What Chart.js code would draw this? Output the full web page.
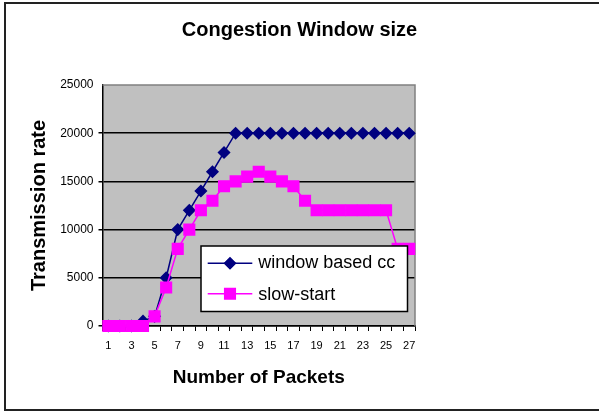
<!DOCTYPE html>
<html>
<head>
<meta charset="utf-8">
<script src="https://cdn.jsdelivr.net/npm/chart.js@4"></script>
<style>
  html, body { margin: 0; padding: 0; background: #fff; }
  #wrap { width: 599px; height: 412px; }
</style>
</head>
<body>
<div id="wrap"><canvas id="c" width="599" height="412"></canvas></div>
<script>
const packets = ['1','2','3','4','5','6','7','8','9','10','11','12','13','14','15','16','17','18','19','20','21','22','23','24','25','26','27'];
const windowBased = [0,0,0,500,1000,5000,10000,12000,14000,16000,18000,20000,20000,20000,20000,20000,20000,20000,20000,20000,20000,20000,20000,20000,20000,20000,20000];
const slowStart = [0,0,0,0,1000,4000,8000,10000,12000,13000,14500,15000,15500,16000,15500,15000,14500,13000,12000,12000,12000,12000,12000,12000,12000,8000,8000];
const yTicks = [0,5000,10000,15000,20000,25000];

const FONT = '"Liberation Sans", Arial, sans-serif';

const plotBg = {
  id: 'plotBg',
  beforeDraw(chart) {
    const {ctx, chartArea: a} = chart;
    ctx.save();
    ctx.fillStyle = '#C0C0C0';
    ctx.fillRect(a.left, a.top, a.right - a.left, a.bottom - a.top);
    ctx.restore();
  },
  beforeDatasetsDraw(chart) {
    const {ctx, chartArea: a} = chart;
    ctx.save();
    ctx.strokeStyle = '#808080';
    ctx.lineWidth = 1.5;
    ctx.beginPath();
    ctx.moveTo(a.left, a.top);
    ctx.lineTo(a.right, a.top);
    ctx.lineTo(a.right, a.bottom);
    ctx.stroke();
    ctx.restore();
  }
};

const boxLegend = {
  id: 'boxLegend',
  afterDraw(chart) {
    const {ctx, chartArea: a} = chart;
    const x0 = a.left + 98.5, y0 = a.top + 161, w = 206.5, h = 65.5;
    ctx.save();
    ctx.fillStyle = '#fff';
    ctx.fillRect(x0, y0, w, h);
    ctx.strokeStyle = '#000';
    ctx.lineWidth = 1.5;
    ctx.strokeRect(x0, y0, w, h);
    ctx.beginPath();
    ctx.rect(x0, y0, w - 1, h);
    ctx.clip();
    const rows = [chart.data.datasets[0], chart.data.datasets[1]];
    const rowY = [y0 + 17.3, y0 + 47.8];
    rows.forEach((ds, i) => {
      const y = rowY[i];
      ctx.strokeStyle = ds.borderColor;
      ctx.lineWidth = ds.borderWidth;
      ctx.beginPath();
      ctx.moveTo(x0 + 6.7, y);
      ctx.lineTo(x0 + 51.3, y);
      ctx.stroke();
      Chart.helpers.drawPoint(ctx, {
        pointStyle: ds.pointStyle,
        radius: ds.pointRadius,
        borderWidth: 1
      }, x0 + 29, y);
      ctx.fillStyle = ds.backgroundColor;
      ctx.fill();
      ctx.fillStyle = '#000';
      ctx.font = '18px ' + FONT;
      ctx.textBaseline = 'middle';
      ctx.textAlign = 'left';
      ctx.fillText(ds.label, x0 + 57.3, y + (i === 0 ? 0 : 1.2));
    });
    ctx.restore();
  }
};

const frame = {
  id: 'frame',
  afterDraw(chart) {
    const {ctx} = chart;
    ctx.save();
    ctx.strokeStyle = '#222';
    ctx.lineWidth = 2;
    ctx.strokeRect(5, 3, 700, 407);
    ctx.restore();
  }
};

new Chart(document.getElementById('c'), {
  type: 'line',
  data: {
    labels: packets,
    datasets: [
      {
        label: 'window based cc',
        data: windowBased,
        borderColor: '#000080',
        backgroundColor: '#000080',
        pointBackgroundColor: '#000080',
        pointBorderColor: '#000080',
        pointStyle: 'rectRot',
        pointRadius: 5.5,
        pointHoverRadius: 5.5,
        borderWidth: 1.5,
        tension: 0,
        clip: false,
        order: 1
      },
      {
        label: 'slow-start',
        data: slowStart,
        borderColor: '#FF00FF',
        backgroundColor: '#FF00FF',
        pointBackgroundColor: '#FF00FF',
        pointBorderColor: '#FF00FF',
        pointStyle: 'rect',
        pointRadius: 7.5,
        pointHoverRadius: 7.5,
        borderWidth: 1.5,
        tension: 0,
        clip: false,
        order: 0
      }
    ]
  },
  options: {
    responsive: false,
    animation: false,
    devicePixelRatio: 1,
    layout: { padding: 0 },
    plugins: {
      legend: { display: false },
      tooltip: { enabled: false },
      title: {
        display: true,
        text: 'Congestion Window size',
        color: '#000',
        font: { family: FONT, size: 20, weight: 'bold', lineHeight: 1.2 },
        padding: { top: 18, bottom: 43 }
      }
    },
    scales: {
      x: {
        type: 'category',
        offset: true,
        afterFit(scale) { scale.height = 86; },
        grid: {
          offset: true,
          drawOnChartArea: false,
          drawTicks: true,
          tickLength: 5,
          color: '#000',
          lineWidth: 1
        },
        border: { display: true, color: '#000', width: 1.5 },
        ticks: {
          autoSkip: false,
          maxRotation: 0,
          minRotation: 0,
          padding: 8,
          color: '#000',
          font: { family: FONT, size: 11 },
          callback(value, index) { return index % 2 === 0 ? packets[index] : ''; }
        },
        title: {
          display: true,
          text: 'Number of Packets',
          color: '#000',
          font: { family: FONT, size: 19, weight: 'bold', lineHeight: 1.2 },
          padding: { top: 0, bottom: 23.2 }
        }
      },
      y: {
        min: 0,
        max: 25000,
        afterFit(scale) { scale.width = 102.5; },
        afterBuildTicks(scale) { scale.ticks = yTicks.map(v => ({ value: v })); },
        grid: {
          drawOnChartArea: true,
          drawTicks: true,
          tickLength: 4,
          color(ctx) { return ctx.tick && ctx.tick.value === 25000 ? 'rgba(0,0,0,0)' : '#000'; },
          lineWidth: 1.5
        },
        border: { display: true, color: '#000', width: 1.5 },
        ticks: {
          padding: 5,
          color: '#000',
          font: { family: FONT, size: 12 },
          callback(value) { return String(value); }
        },
        title: {
          display: true,
          text: 'Transmission rate',
          color: '#000',
          font: { family: FONT, size: 20, weight: 'bold', lineHeight: 1.2 },
          padding: { top: 27.8, bottom: 0 }
        }
      },
      yRightSpace: {
        position: 'right',
        min: 0,
        max: 25000,
        afterFit(scale) { scale.width = 184; },
        grid: { display: false, drawOnChartArea: false, drawTicks: false },
        border: { display: false },
        ticks: { display: false },
        title: { display: false }
      }
    }
  },
  plugins: [plotBg, boxLegend, frame]
});
</script>
</body>
</html>
